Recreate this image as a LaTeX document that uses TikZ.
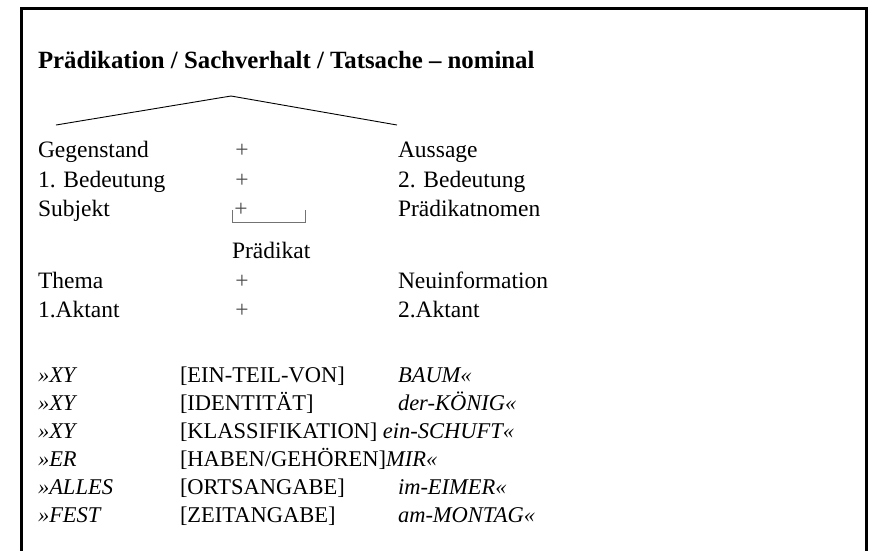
\documentclass[tikz,border=0pt]{standalone}
\usepackage{fontspec}
\setmainfont{Liberation Serif}
\begin{document}
\begin{tikzpicture}[x=1pt,y=-1pt,
  txt/.style={anchor=base west,inner sep=0pt,outer sep=0pt,font=\fontsize{23.5}{28}\selectfont},
  head/.style={anchor=base west,inner sep=0pt,outer sep=0pt,font=\fontsize{24.8}{30}\selectfont\bfseries},
  plus/.style={anchor=base,inner sep=0pt,outer sep=0pt,font=\fontsize{23.5}{28}\selectfont,text=black!70},
  row/.style={anchor=base west,inner sep=0pt,outer sep=0pt,font=\fontsize{22.5}{27}\selectfont},
  rowit/.style={row,font=\fontsize{22.5}{27}\selectfont\itshape},
  roof/.style={line width=0.9pt},
  brk/.style={line width=0.9pt,black!55}]
\useasboundingbox (0,0) rectangle (872,550);

% frame, open at the bottom
\draw[line width=3pt] (21,565) -- (21,8) -- (866,8) -- (866,565);

% heading
\node[head] (title) at (38,68) {Prädikation / Sachverhalt / Tatsache – nominal};

% roof over the two halves
\coordinate (roofL) at (56,125);
\coordinate (roofT) at (231,96);
\coordinate (roofR) at (397,125);
\draw[roof] (roofL) -- (roofT) -- (roofR);

% upper table: left term, plus, right term
\node[txt] (l1) at (38,157.5) {Gegenstand};
\node[plus] (p1) at (242,157.5) {+};
\node[txt] (r1) at (398,157.5) {Aussage};

\node[txt] (l2) at (38,187) {1. Bedeutung};
\node[plus] (p2) at (242,187) {+};
\node[txt] (r2) at (398,187) {2. Bedeutung};

\node[txt] (l3) at (38,216.5) {Subjekt};
\node[plus] (p3) at (241,216.5) {+};
\node[txt] (r3) at (398,216.5) {Prädikatnomen};

% bracket marking the predicate
\coordinate (bA) at (232.5,210);
\coordinate (bB) at (232.5,222);
\coordinate (bC) at (305,222);
\coordinate (bD) at (305,210);
\draw[brk] (bA) -- (bB) -- (bC) -- (bD);
\node[txt] (pk) at (232,258) {Prädikat};

\node[txt] (l4) at (38,288) {Thema};
\node[plus] (p4) at (242,288) {+};
\node[txt] (r4) at (398,288) {Neuinformation};

\node[txt] (l5) at (38,317) {1.Aktant};
\node[plus] (p5) at (242,317) {+};
\node[txt] (r5) at (398,317) {2.Aktant};

% lower table: examples
\node[rowit] (a1) at (38,382) {»XY};
\node[row] (b1) at (180,382) {[EIN-TEIL-VON]};
\node[rowit] (c1) at (398,382) {BAUM«};

\node[rowit] (a2) at (38,410) {»XY};
\node[row] (b2) at (180,410) {[IDENTITÄT]};
\node[rowit] (c2) at (398,410) {der-KÖNIG«};

\node[rowit] (a3) at (38,438) {»XY};
\node[row] (b3) at (180,438) {[KLASSIFIKATION]};
\node[rowit] (c3) at ([xshift=5.5pt]b3.base east) {ein-SCHUFT«};

\node[rowit] (a4) at (38,466) {»ER};
\node[row] (b4) at (180,466) {[HABEN/GEHÖREN]};
\node[rowit] (c4) at (b4.base east) {MIR«};

\node[rowit] (a5) at (38,494) {»ALLES};
\node[row] (b5) at (180,494) {[ORTSANGABE]};
\node[rowit] (c5) at (398,494) {im-EIMER«};

\node[rowit] (a6) at (38,522) {»FEST};
\node[row] (b6) at (180,522) {[ZEITANGABE]};
\node[rowit] (c6) at (398,522) {am-MONTAG«};
\end{tikzpicture}
\end{document}
